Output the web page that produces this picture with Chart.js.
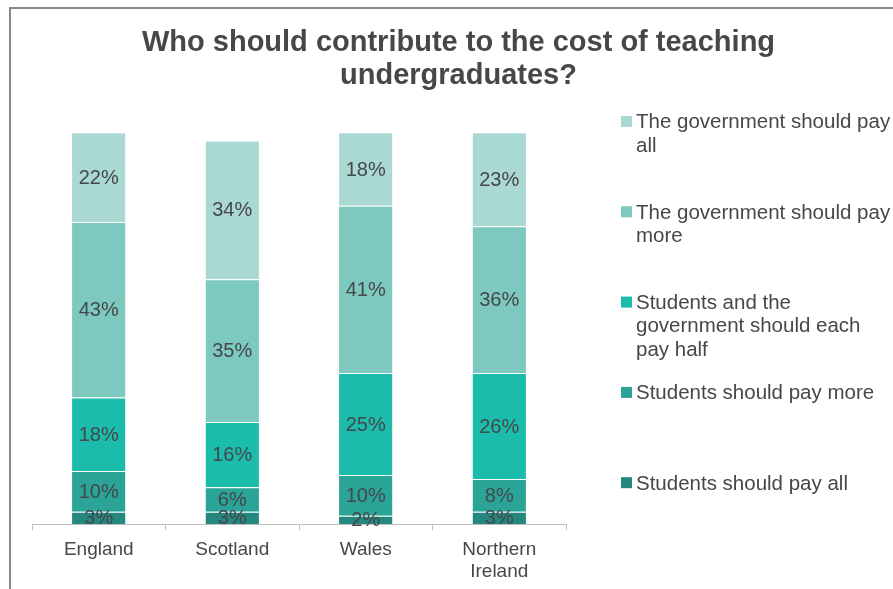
<!DOCTYPE html>
<html>
<head>
<meta charset="utf-8">
<script src="https://cdn.jsdelivr.net/npm/chart.js@4.4.1/dist/chart.umd.min.js"></script>
<style>
  html, body { margin: 0; padding: 0; background: #ffffff; overflow: hidden; }
  #wrap { position: relative; width: 893px; height: 589px; }
  #frame { position: absolute; left: 9px; top: 7px; width: 1000px; height: 700px;
           border-left: 2px solid #8a8a8a; border-top: 2px solid #8a8a8a; }
  canvas { position: absolute; left: 0; top: 0; }
</style>
</head>
<body>
<div id="wrap">
  <div id="frame"></div>
  <canvas id="chart" width="893" height="589"></canvas>
</div>
<script>
// Survey: share of respondents per answer, by nation
const titleLines = ['Who should contribute to the cost of teaching', 'undergraduates?'];
const categories = ['England', 'Scotland', 'Wales', ['Northern', 'Ireland']];

// Series, stacked from the bottom of each bar upwards
const seriesNames = [
  'Students should pay all',
  'Students should pay more',
  'Students and the government should each pay half',
  'The government should pay more',
  'The government should pay all'
];
const studentsPayAll  = [3, 3, 2, 3];
const studentsPayMore = [10, 6, 10, 8];
const payHalf         = [18, 16, 25, 26];
const govPayMore      = [43, 35, 41, 36];
const govPayAll       = [22, 34, 18, 23];
const seriesValues = [studentsPayAll, studentsPayMore, payHalf, govPayMore, govPayAll];
const seriesColors = ['#24887e', '#2aa496', '#1bbcab', '#7dc8bf', '#aad8d2'];

const TEXT = '#45474b';
const FONT = '"Liberation Sans", Arial, sans-serif';

// Percent labels centred in every segment
const segmentLabels = {
  id: 'segmentLabels',
  afterDatasetsDraw(chart) {
    const ctx = chart.ctx;
    ctx.save();
    ctx.font = '20px ' + FONT;
    ctx.fillStyle = TEXT;
    ctx.textAlign = 'center';
    ctx.textBaseline = 'middle';
    chart.data.datasets.forEach((ds, di) => {
      chart.getDatasetMeta(di).data.forEach((bar, i) => {
        const p = bar.getProps(['x', 'y', 'base'], true);
        ctx.fillText(ds.data[i] + '%', p.x, (p.y + p.base) / 2 + 1);
      });
    });
    ctx.restore();
  }
};

// Title and wrapped legend on the right
const sideText = {
  id: 'sideText',
  afterDraw(chart) {
    const ctx = chart.ctx;
    ctx.save();
    ctx.fillStyle = TEXT;
    ctx.textBaseline = 'alphabetic';
    ctx.font = 'bold 29px ' + FONT;
    ctx.textAlign = 'center';
    titleLines.forEach((t, i) => ctx.fillText(t, 458.5, 51 + i * 33));

    ctx.font = '20.5px ' + FONT;
    ctx.textAlign = 'left';
    const maxW = 258;
    const n = chart.data.datasets.length;
    for (let k = 0; k < n; k++) {
      const di = n - 1 - k;
      const ds = chart.data.datasets[di];
      const base = 128.3 + k * 90.3;
      ctx.fillStyle = ds.backgroundColor;
      ctx.fillRect(621, base - 12.3, 11, 11);
      ctx.fillStyle = TEXT;
      const words = ds.label.split(' ');
      const lines = [];
      let cur = '';
      words.forEach(w => {
        const test = cur ? cur + ' ' + w : w;
        if (ctx.measureText(test).width > maxW && cur) { lines.push(cur); cur = w; }
        else cur = test;
      });
      if (cur) lines.push(cur);
      lines.forEach((l, j) => ctx.fillText(l, 636, base + j * 23.5));
    }
    ctx.restore();
  }
};

new Chart(document.getElementById('chart'), {
  type: 'bar',
  data: {
    labels: categories,
    datasets: seriesNames.map((name, i) => ({
      label: name,
      data: seriesValues[i],
      backgroundColor: seriesColors[i],
      borderColor: 'rgba(255,255,255,0.35)',
      borderWidth: { top: 1, left: 0, right: 0, bottom: 0 },
      borderSkipped: false,
      categoryPercentage: 1,
      barPercentage: 0.4
    }))
  },
  options: {
    responsive: false,
    animation: false,
    layout: { padding: { left: 32, right: 327, top: 116, bottom: 0 } },
    plugins: {
      legend: { display: false },
      title: { display: false },
      tooltip: { enabled: false }
    },
    scales: {
      x: {
        stacked: true,
        afterFit(scale) { scale.height = 65; },
        grid: { display: true, drawOnChartArea: false, drawTicks: true, tickLength: 6, color: '#bfbfbf', offset: true },
        border: { display: true, color: '#bfbfbf', width: 1 },
        ticks: { color: TEXT, font: { family: FONT, size: 19 }, padding: 8, maxRotation: 0, autoSkip: false }
      },
      y: {
        stacked: true,
        display: false,
        min: 0,
        max: 100
      }
    }
  },
  plugins: [segmentLabels, sideText]
});
</script>
</body>
</html>
